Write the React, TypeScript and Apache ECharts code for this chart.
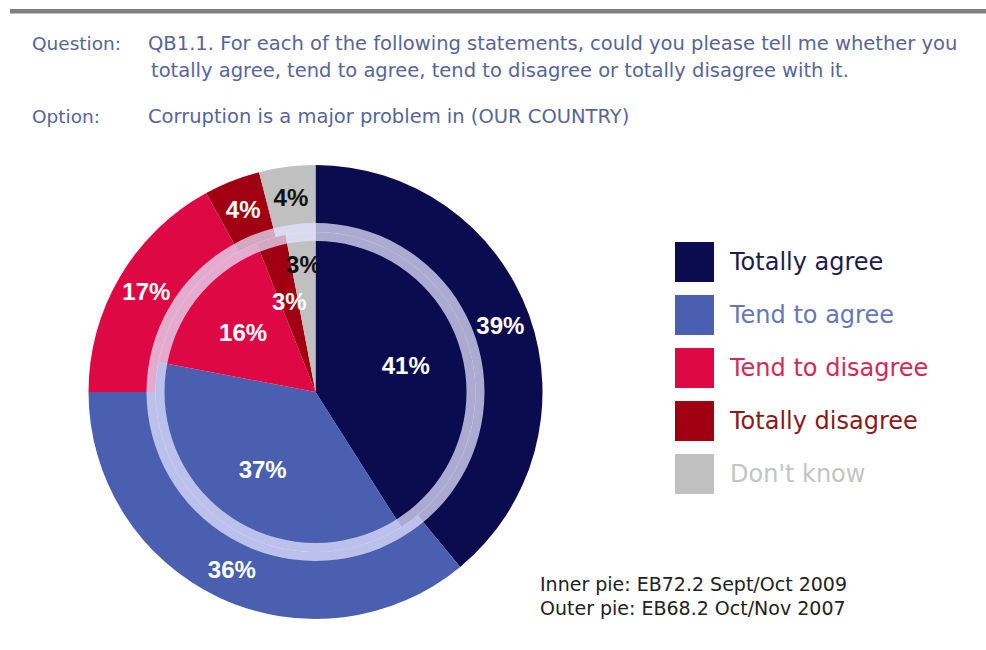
import React, { useEffect, useRef } from "react";
import * as echarts from "echarts";

const categories = ["Totally agree", "Tend to agree", "Tend to disagree", "Totally disagree", "Don't know"];
const inner2009 = [41, 37, 16, 3, 3];
const outer2007 = [39, 36, 17, 4, 4];
const sliceColors = ["#0b0b4f", "#4a5fb0", "#de0844", "#a00012", "#c0c0c0"];
const legendTextColors = ["#1c1c4c", "#6577b8", "#d22a55", "#8a1a1a", "#c4c4c4"];
const labelColors = ["#ffffff", "#ffffff", "#ffffff", "#ffffff", "#111111"];

const questionLabel = "Question:";
const questionLines = [
  "QB1.1. For each of the following statements, could you please tell me whether you",
  "totally agree, tend to agree, tend to disagree or totally disagree with it.",
];
const optionLabel = "Option:";
const optionText = "Corruption is a major problem in (OUR COUNTRY)";
const footnotes = ["Inner pie: EB72.2 Sept/Oct 2009", "Outer pie: EB68.2 Oct/Nov 2007"];

const FONT = "'DejaVu Sans', Verdana, sans-serif";
const LABEL_FONT = "'Liberation Sans', Arial, sans-serif";
const CENTER = [315.5, 392];
const HEAD_COLOR = "#56659a";
const HEAD_FONT = `18.5px ${FONT}`;
const BODY_FONT = `19.5px ${FONT}`;

export default function App() {
  const ref = useRef<HTMLDivElement>(null);

  useEffect(() => {
    if (!ref.current) return;
    const chart = echarts.init(ref.current, null, { renderer: "svg" });

    const labelStyle = (i: number, show = true) => ({
      show,
      position: "inside",
      formatter: "{c}%",
      color: labelColors[i],
      fontSize: 24,
      fontWeight: "bold",
      fontFamily: LABEL_FONT,
    });

    const solidData = (vals: number[]) =>
      vals.map((v, i) => ({ name: categories[i], value: v, itemStyle: { color: sliceColors[i] } }));

    const transparentData = (vals: number[], showIdx: (i: number) => boolean) =>
      vals.map((v, i) => ({
        name: categories[i],
        value: v,
        itemStyle: { color: "rgba(0,0,0,0)" },
        label: labelStyle(i, showIdx(i)),
      }));

    const common = {
      type: "pie",
      center: CENTER,
      startAngle: 90,
      clockwise: true,
      avoidLabelOverlap: false,
      labelLine: { show: false },
      emphasis: { disabled: true },
      silent: true,
    };

    chart.setOption({
      animation: false,
      backgroundColor: "#ffffff",
      legend: {
        orient: "vertical",
        left: 675,
        top: 242,
        padding: 0,
        itemWidth: 39,
        itemHeight: 40,
        itemGap: 13,
        icon: "rect",
        selectedMode: false,
        textStyle: { fontSize: 24, fontFamily: FONT, padding: [0, 0, 0, 11] },
        data: categories.map((c, i) => ({
          name: c,
          itemStyle: { color: sliceColors[i] },
          textStyle: { color: legendTextColors[i] },
        })),
      },
      graphic: [
        { type: "rect", shape: { x: 10, y: 9, width: 976, height: 4.5 }, style: { fill: "#7f7f7f" } },
        { type: "text", left: 32, top: 34, style: { text: questionLabel, fill: HEAD_COLOR, font: HEAD_FONT } },
        { type: "text", left: 148, top: 33, style: { text: questionLines[0], fill: HEAD_COLOR, font: BODY_FONT } },
        { type: "text", left: 151, top: 60, style: { text: questionLines[1], fill: HEAD_COLOR, font: BODY_FONT } },
        { type: "text", left: 32, top: 107, style: { text: optionLabel, fill: HEAD_COLOR, font: HEAD_FONT } },
        { type: "text", left: 148, top: 106, style: { text: optionText, fill: HEAD_COLOR, font: BODY_FONT } },
        { type: "text", left: 540, top: 574, style: { text: footnotes[0], fill: "#222222", font: `19px ${FONT}` } },
        { type: "text", left: 540, top: 598, style: { text: footnotes[1], fill: "#222222", font: `19px ${FONT}` } },
      ],
      series: [
        {
          ...common,
          name: "Outer pie",
          radius: [160, 227],
          data: outer2007.map((v, i) => ({
            name: categories[i],
            value: v,
            itemStyle: { color: sliceColors[i] },
            label: labelStyle(i),
          })),
        },
        {
          ...common,
          name: "Inner pie",
          radius: [0, 160],
          label: { show: false },
          data: solidData(inner2009),
        },
        {
          ...common,
          name: "Ring",
          radius: [151, 169],
          label: { show: false },
          data: [{ name: "ring", value: 1, itemStyle: { color: "rgba(228,228,255,0.74)" } }],
        },
        {
          ...common,
          name: "Inner labels",
          radius: [0, 182],
          data: transparentData(inner2009, (i) => i < 4),
        },
        {
          ...common,
          name: "Inner labels far",
          radius: [0, 250],
          data: transparentData(inner2009, (i) => i === 4),
        },
      ],
    });

    return () => chart.dispose();
  }, []);

  return (
    <div
      ref={ref}
      style={{ position: "fixed", left: 0, top: 0, width: 986, height: 650 }}
    />
  );
}
